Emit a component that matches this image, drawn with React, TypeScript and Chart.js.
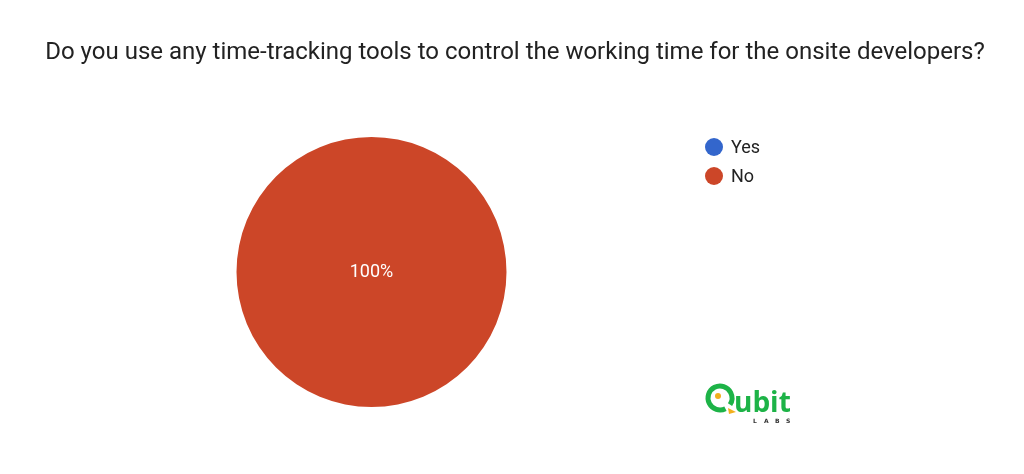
import React, { useEffect, useRef } from "react";
import { Chart, registerables } from "chart.js";

Chart.register(...registerables);

const title = "Do you use any time-tracking tools to control the working time for the onsite developers?";
const categories = ["Yes", "No"];
const values = [0, 100];
const colors = ["#3366cc", "#cc4628"];

const overlayPlugin = {
  id: "overlay",
  afterDraw(chart: any) {
    const ctx = chart.ctx as CanvasRenderingContext2D;
    ctx.save();
    // title
    ctx.fillStyle = "#222222";
    ctx.font = "24px Roboto";
    ctx.textAlign = "center";
    ctx.textBaseline = "middle";
    ctx.fillText(title, 515, 53);

    // legend
    categories.forEach((c, i) => {
      const y = 147 + i * 29;
      ctx.beginPath();
      ctx.fillStyle = colors[i];
      ctx.arc(714, y, 9, 0, Math.PI * 2);
      ctx.fill();
      ctx.fillStyle = "#222222";
      ctx.font = "18px Roboto";
      ctx.textAlign = "left";
      ctx.textBaseline = "middle";
      ctx.fillText(c, 731, y + 1);
    });

    // slice labels
    const meta = chart.getDatasetMeta(0);
    const total = values.reduce((a, b) => a + b, 0);
    meta.data.forEach((arc: any, i: number) => {
      if (!values[i]) return;
      const pct = Math.round((values[i] / total) * 100);
      let x: number, y: number;
      if (pct === 100) {
        x = arc.x;
        y = arc.y;
      } else {
        const p = arc.tooltipPosition();
        x = p.x;
        y = p.y;
      }
      ctx.fillStyle = "#ffffff";
      ctx.font = "18px Roboto";
      ctx.textAlign = "center";
      ctx.textBaseline = "middle";
      ctx.fillText(pct + "%", x, y);
    });

    // logo watermark
    ctx.strokeStyle = "#1db347";
    ctx.lineWidth = 5;
    ctx.beginPath();
    ctx.arc(720, 398, 12, Math.PI * 0.35, Math.PI * 0.25 + Math.PI * 2 - 0.2);
    ctx.stroke();
    ctx.fillStyle = "#f2b01e";
    ctx.beginPath();
    ctx.arc(718, 396, 3, 0, Math.PI * 2);
    ctx.fill();
    ctx.beginPath();
    ctx.moveTo(728, 408);
    ctx.lineTo(736, 412);
    ctx.lineTo(729, 414);
    ctx.closePath();
    ctx.fill();
    ctx.fillStyle = "#1db347";
    ctx.font = "bold 28px 'Open Sans'";
    ctx.textAlign = "left";
    ctx.textBaseline = "alphabetic";
    ctx.fillText("ubit", 734, 412);
    ctx.fillStyle = "#333333";
    ctx.font = "bold 6px 'DejaVu Sans'";
    const labs = "LABS";
    for (let k = 0; k < labs.length; k++) {
      ctx.fillText(labs[k], 753 + k * 11, 423);
    }
    ctx.restore();
  },
};

export default function App() {
  const ref = useRef<HTMLCanvasElement>(null);
  useEffect(() => {
    document.body.style.margin = "0";
    const chart = new Chart(ref.current!, {
      type: "pie",
      data: {
        labels: categories,
        datasets: [
          {
            data: values,
            backgroundColor: colors,
            borderWidth: 0,
          },
        ],
      },
      options: {
        animation: false,
        responsive: false,
        maintainAspectRatio: false,
        layout: { padding: { left: 236, right: 517, top: 137, bottom: 67 } },
        plugins: {
          legend: { display: false },
          title: { display: false },
          tooltip: { enabled: false },
        },
      },
      plugins: [overlayPlugin],
    });
    return () => chart.destroy();
  }, []);
  return (
    <div style={{ width: 1024, height: 474, background: "#ffffff" }}>
      <canvas ref={ref} width={1024} height={474} />
    </div>
  );
}
